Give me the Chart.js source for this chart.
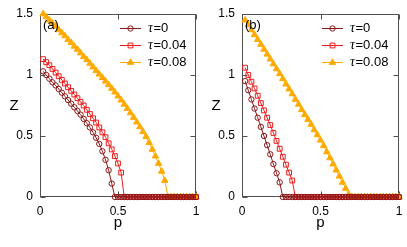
<!DOCTYPE html>
<html><head><meta charset="utf-8">
<script src="https://cdn.jsdelivr.net/npm/chart.js@4.4.0/dist/chart.umd.min.js"></script>
<style>
html,body{margin:0;padding:0;background:#fff;overflow:hidden}
#wrap{display:flex;width:407px;height:247px}
canvas{display:block}
</style></head>
<body>
<div id="wrap"><canvas id="ca" width="202" height="247"></canvas><canvas id="cb" width="205" height="247"></canvas></div>
<script>
// ---- data ----
const p = [0.02,0.04,0.06,0.08,0.10,0.12,0.14,0.16,0.18,0.20,
           0.22,0.24,0.26,0.28,0.30,0.32,0.34,0.36,0.38,0.40,
           0.42,0.44,0.46,0.48,0.50,0.52,0.54,0.56,0.58,0.60,
           0.62,0.64,0.66,0.68,0.70,0.72,0.74,0.76,0.78,0.80,
           0.82,0.84,0.86,0.88,0.90,0.92,0.94,0.96,0.98,1.00];
const tauLabels = ['0','0.04','0.08'];
const xTickVals = [0,0.5,1];
const yTickVals = [0,0.5,1,1.5];
const panelLabels = ['(a)','(b)'];

// panel (a)
const zA_tau0 = [1.03,1.00,0.97,0.94,0.915,0.885,0.855,0.825,0.795,0.765,
                 0.735,0.705,0.675,0.64,0.605,0.57,0.53,0.485,0.435,0.375,
                 0.305,0.22,0.11,0,0,0,0,0,0,0,
                 0,0,0,0,0,0,0,0,0,0,
                 0,0,0,0,0,0,0,0,0,0];
const zA_tau004 = [1.13,1.105,1.08,1.05,1.02,0.99,0.96,0.93,0.90,0.87,
                   0.84,0.81,0.78,0.75,0.715,0.68,0.645,0.61,0.57,0.53,
                   0.49,0.44,0.39,0.335,0.275,0.20,0,0,0,0,
                   0,0,0,0,0,0,0,0,0,0,
                   0,0,0,0,0,0,0,0,0,0];
const zA_tau008 = [1.50,1.475,1.45,1.425,1.40,1.37,1.345,1.32,1.29,1.265,
                   1.235,1.21,1.18,1.15,1.125,1.095,1.065,1.035,1.006,0.978,
                   0.949,0.92,0.89,0.859,0.827,0.794,0.76,0.725,0.689,0.652,
                   0.614,0.575,0.535,0.494,0.445,0.39,0.335,0.275,0.21,0.135,
                   0,0,0,0,0,0,0,0,0,0];
// panel (b)
const zB_tau0 = [0.95,0.875,0.80,0.725,0.65,0.575,0.50,0.425,0.35,0.27,
                 0.195,0.12,0,0,0,0,0,0,0,0,
                 0,0,0,0,0,0,0,0,0,0,
                 0,0,0,0,0,0,0,0,0,0,
                 0,0,0,0,0,0,0,0,0,0];
const zB_tau004 = [1.06,1.00,0.945,0.89,0.83,0.77,0.71,0.65,0.59,0.525,
                   0.46,0.395,0.33,0.265,0.20,0.135,0,0,0,0,
                   0,0,0,0,0,0,0,0,0,0,
                   0,0,0,0,0,0,0,0,0,0,
                   0,0,0,0,0,0,0,0,0,0];
const zB_tau008 = [1.45,1.41,1.37,1.33,1.29,1.25,1.21,1.17,1.13,1.09,
                   1.05,1.01,0.97,0.925,0.885,0.845,0.80,0.76,0.715,0.675,
                   0.635,0.595,0.55,0.51,0.465,0.42,0.37,0.32,0.27,0.22,
                   0.17,0.12,0.07,0.02,0,0,0,0,0,0,
                   0,0,0,0,0,0,0,0,0,0];

// ---- styles ----
const SANS = '"Liberation Sans", Arial, Helvetica, sans-serif';
const SERIF = '"Liberation Serif", "DejaVu Serif", serif';
const STY = [
  {color:'#8b1616', style:'circle',   r:2.7, fill:'rgba(0,0,0,0)'},
  {color:'#ee1c1c', style:'rect',     r:3.4, fill:'rgba(0,0,0,0)'},
  {color:'#ffaa00', style:'triangle', r:3.7, fill:'#ffaa00'}
];
const FRAME = '#505050';

function marker(ctx, st, x, y){
  ctx.save();
  ctx.strokeStyle = st.color; ctx.lineWidth = 1; ctx.fillStyle = st.fill;
  ctx.beginPath();
  if (st.style === 'circle') {
    ctx.arc(x, y, st.r, 0, Math.PI*2);
  } else if (st.style === 'rect') {
    const h = st.r*Math.SQRT1_2;
    ctx.rect(x-h, y-h, 2*h, 2*h);
  } else {
    for (let k=0;k<3;k++){
      const a = k*2*Math.PI/3;
      const px = x + Math.sin(a)*st.r, py = y - Math.cos(a)*st.r;
      if (k===0) ctx.moveTo(px,py); else ctx.lineTo(px,py);
    }
    ctx.closePath();
  }
  ctx.fill(); ctx.stroke();
  ctx.restore();
}

const framePlugin = {
  id: 'frame',
  beforeDatasetsDraw(chart){
    const {ctx, chartArea:a, scales:{x, y}} = chart;
    ctx.save();
    ctx.strokeStyle = FRAME; ctx.lineWidth = 1;
    const L = Math.round(a.left)+0.5, R = Math.round(a.right)-0.5,
          T = Math.round(a.top)+0.5, B = Math.round(a.bottom)-0.5;
    ctx.strokeRect(L, T, R-L, B-T);
    ctx.beginPath();
    xTickVals.forEach(v=>{
      const px = Math.round(x.getPixelForValue(v))+0.5;
      ctx.moveTo(px, B); ctx.lineTo(px, B-5);
      ctx.moveTo(px, T); ctx.lineTo(px, T+5);
    });
    yTickVals.forEach(v=>{
      const py = Math.round(y.getPixelForValue(v))+0.5;
      ctx.moveTo(L, py); ctx.lineTo(L+5, py);
      ctx.moveTo(R, py); ctx.lineTo(R-5, py);
    });
    ctx.stroke();
    ctx.restore();
  }
};

const decorPlugin = {
  id: 'decor',
  afterDatasetsDraw(chart, args, opts){
    const {ctx, chartArea:a} = chart;
    ctx.save();
    ctx.fillStyle = '#000';
    // panel label
    ctx.font = '13px ' + SANS;
    ctx.textAlign = 'left'; ctx.textBaseline = 'alphabetic';
    ctx.fillText(opts.label, a.left + 3, 29);
    // y-axis title (upright)
    ctx.font = '15px ' + SANS;
    ctx.textAlign = 'center';
    ctx.fillText('Z', 14, 110);
    // legend
    const rows = [28, 45, 62];
    const x1 = 120, x2 = 141, mx = 130.5, tx = 148;
    chart.data.datasets.forEach((ds, i)=>{
      const st = STY[i], yy = rows[i];
      ctx.save();
      ctx.strokeStyle = st.color; ctx.lineWidth = 1;
      ctx.beginPath(); ctx.moveTo(x1, yy+0.5); ctx.lineTo(x2, yy+0.5); ctx.stroke();
      ctx.restore();
      marker(ctx, st, mx, yy+0.5);
      ctx.fillStyle = '#000';
      ctx.textAlign = 'left'; ctx.textBaseline = 'middle';
      ctx.font = 'italic 14px ' + SERIF;
      ctx.fillText('τ', tx, yy);
      const w = ctx.measureText('τ').width;
      ctx.font = '13px ' + SANS;
      ctx.fillText('=' + tauLabels[i], tx + w + 0.5, yy);
    });
    ctx.restore();
  }
};

function build(id, series, label, padRight){
  const datasets = series.map((s, i)=>({
    label: 'τ=' + tauLabels[i],
    data: p.map((pv, k)=>({x: pv, y: s[k]})),
    borderColor: STY[i].color,
    backgroundColor: STY[i].fill,
    pointStyle: STY[i].style,
    pointRadius: STY[i].r,
    pointBorderWidth: 1,
    pointBorderColor: STY[i].color,
    pointBackgroundColor: STY[i].fill,
    borderWidth: 1,
    tension: 0,
    fill: false,
    clip: false
  }));
  const zeroPad = s => { s.paddingLeft = 0; s.paddingRight = 0; s.paddingTop = 0; s.paddingBottom = 0; };
  new Chart(document.getElementById(id), {
    type: 'line',
    data: {datasets},
    plugins: [framePlugin, decorPlugin],
    options: {
      responsive: false, animation: false, devicePixelRatio: 1,
      layout: {padding: {top: 14, right: padRight, left: 0, bottom: 0}},
      plugins: {legend: {display: false}, tooltip: {enabled: false}, decor: {label}},
      scales: {
        x: {
          type: 'linear', min: 0, max: 1,
          afterFit: s => { s.height = 50; zeroPad(s); },
          afterBuildTicks: s => { s.ticks = xTickVals.map(v => ({value: v})); },
          grid: {display: false, drawTicks: false}, border: {display: false},
          ticks: {padding: 7, color: '#000', font: {family: SANS, size: 12}, callback: v => String(v)},
          title: {display: true, text: 'p', color: '#000', font: {family: SANS, size: 15}, padding: {top: 0, bottom: 15}}
        },
        y: {
          type: 'linear', min: 0, max: 1.5,
          afterFit: s => { s.width = 40; zeroPad(s); },
          afterBuildTicks: s => { s.ticks = yTickVals.map(v => ({value: v})); },
          grid: {display: false, drawTicks: false}, border: {display: false},
          ticks: {padding: 7, color: '#000', font: {family: SANS, size: 12}, callback: v => String(v)}
        }
      }
    }
  });
}

build('ca', [zA_tau0, zA_tau004, zA_tau008], panelLabels[0], 6);
build('cb', [zB_tau0, zB_tau004, zB_tau008], panelLabels[1], 8);
</script>
</body></html>
